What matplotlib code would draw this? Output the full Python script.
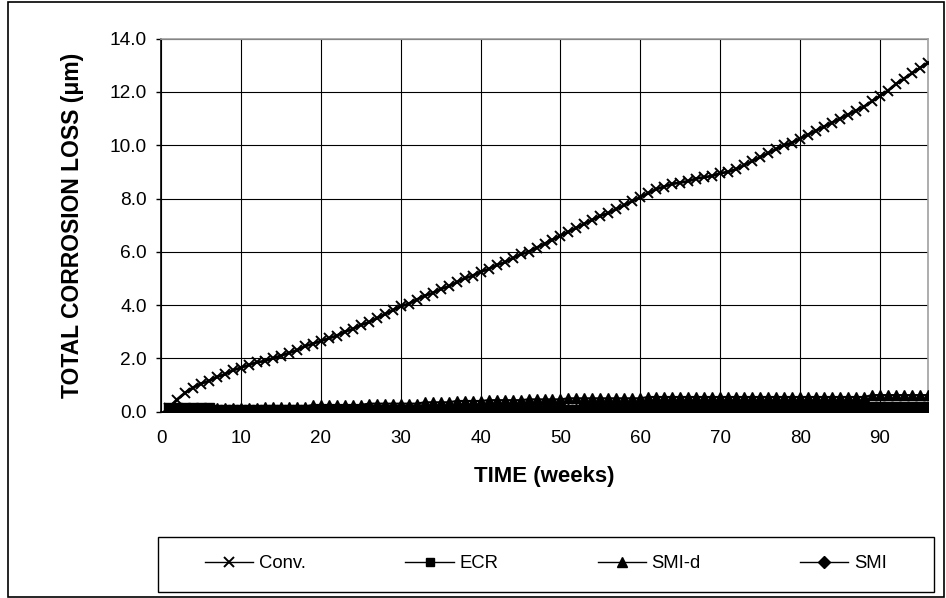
import numpy as np
import matplotlib.pyplot as plt
from matplotlib.patches import Rectangle

plt.rcParams['font.family'] = ['Liberation Sans', 'DejaVu Sans']

# weekly readings, weeks 1..96
weeks = list(range(1, 97))

conv = [0.15, 0.45, 0.70, 0.90, 1.05, 1.15, 1.30, 1.40, 1.55, 1.65,
        1.75, 1.85, 1.90, 2.00, 2.10, 2.20, 2.30, 2.45, 2.55, 2.65,
        2.75, 2.85, 3.00, 3.10, 3.25, 3.35, 3.50, 3.65, 3.80, 3.95,
        4.05, 4.20, 4.35, 4.45, 4.60, 4.70, 4.85, 5.00, 5.10, 5.25,
        5.35, 5.50, 5.60, 5.75, 5.90, 6.00, 6.15, 6.30, 6.45, 6.60,
        6.75, 6.90, 7.05, 7.20, 7.35, 7.45, 7.60, 7.75, 7.90, 8.05,
        8.20, 8.35, 8.45, 8.55, 8.60, 8.65, 8.75, 8.80, 8.85, 8.95,
        9.00, 9.10, 9.25, 9.40, 9.55, 9.70, 9.85, 10.00, 10.10, 10.25,
        10.40, 10.55, 10.70, 10.85, 11.00, 11.15, 11.30, 11.45, 11.65, 11.85,
        12.05, 12.30, 12.50, 12.70, 12.90, 13.10]

ecr = [0.12] * 6 + [0.05] * 46 + [0.12] * 35 + [0.18] * 9

smi_d = ([0.05] * 6 + [0.12] * 6 + [0.18] * 6 + [0.25] * 7 + [0.30] * 7
         + [0.35] * 4 + [0.40] * 4 + [0.43] * 5 + [0.46] * 5 + [0.50] * 10
         + [0.55] * 28 + [0.62] * 8)

smi = [0.00] * 30 + [0.02] * 30 + [0.04] * 36

labels = ['Conv.', 'ECR', 'SMI-d', 'SMI']

fig = plt.figure(figsize=(9.46, 5.98), dpi=100)
ax = fig.add_axes([161 / 946, 1 - 411.6 / 598, 767 / 946, 372.9 / 598])

ax.plot(weeks, smi, color='black', lw=1.5, marker='D', ms=7, label=labels[3], zorder=3)
ax.plot(weeks, ecr, color='black', lw=1.5, marker='s', ms=6.5, label=labels[1], zorder=3)
ax.plot(weeks, smi_d, color='black', lw=1.5, marker='^', ms=7.5, label=labels[2], zorder=3)
ax.plot(weeks, conv, color='black', lw=2, marker='x', ms=7.8, mew=1.4, label=labels[0], zorder=4)

ax.set_xlim(0, 96)
ax.set_ylim(0, 14)
ax.set_xticks(np.arange(0, 91, 10))
ax.set_yticks(np.arange(0, 14.1, 2))
ax.set_yticklabels([f'{v:.1f}' for v in np.arange(0, 14.1, 2)])
ax.tick_params(axis='x', length=0, pad=13, labelsize=13.5)
ax.tick_params(axis='y', length=3.6, width=1, pad=6.5, labelsize=13.8, direction='out')
ax.grid(True, color='black', lw=0.8, zorder=1)
ax.set_axisbelow(True)

for s in ['top', 'right']:
    ax.spines[s].set_color('#a0a0a0')
    ax.spines[s].set_linewidth(1.2)
for s in ['left', 'bottom']:
    ax.spines[s].set_color('black')
    ax.spines[s].set_linewidth(1.2)

ax.set_xlabel('TIME (weeks)', fontsize=16, fontweight='bold', va='center')
ax.xaxis.set_label_coords(0.5, -0.175)
ax.set_ylabel('TOTAL CORROSION LOSS (\u03bcm)', fontsize=16.5, fontweight='bold', va='center')
ax.yaxis.set_label_coords(-0.116, 0.5)

# legend box along the bottom
fig.patches.append(Rectangle((158 / 946, 1 - 592 / 598), 776 / 946, 55 / 598,
                             transform=fig.transFigure, fill=False, ec='black', lw=1))
# outer chart border
fig.patches.append(Rectangle((8 / 946, 1 / 598), 936 / 946, 595 / 598,
                             transform=fig.transFigure, fill=False, ec='black', lw=1.2))

legend_ms = {'x': 7.5, 's': 5.8, '^': 7, 'D': 6.5}
h, l = ax.get_legend_handles_labels()
hs = []
for name in labels:
    src = h[l.index(name)]
    m = src.get_marker()
    hs.append(plt.Line2D([], [], color='black', lw=1, marker=m,
                         ms=legend_ms[m], mew=src.get_markeredgewidth()))
fig.legend(hs, labels, loc='center', bbox_to_anchor=(546 / 946, 1 - 564 / 598),
           ncol=4, frameon=False, fontsize=13.3, handlelength=2.6, handletextpad=0.3,
           columnspacing=5.4)

fig.savefig('out.png', dpi=100)
